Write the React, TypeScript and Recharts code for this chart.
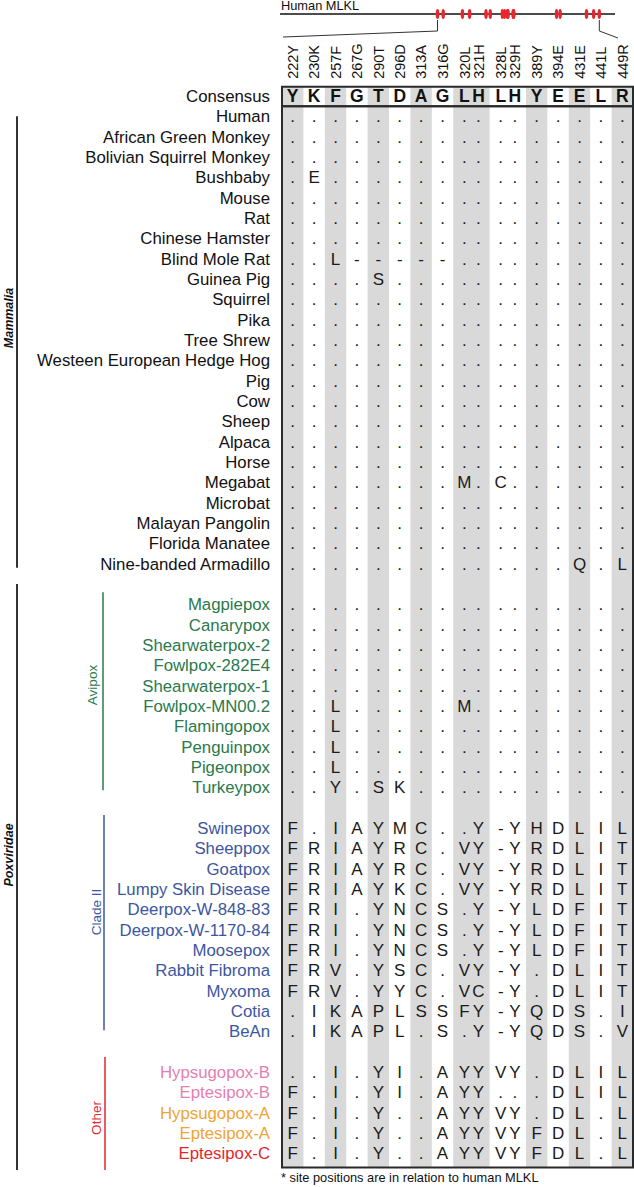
import React from 'react';
import { ComposedChart, XAxis, YAxis, Scatter, ReferenceArea, ReferenceLine } from 'recharts';

const FONT = '"Liberation Sans", Arial, Helvetica, sans-serif';

// ---------- data ----------
const sites = ['222Y', '230K', '257F', '267G', '290T', '296D', '313A', '316G', '320L', '321H', '328L', '329H', '389Y', '394E', '431E', '441L', '449R'];
const sitePositions = [222, 230, 257, 267, 290, 296, 313, 316, 320, 321, 328, 329, 389, 394, 431, 441, 449];
const siteGroup = [0, 1, 2, 3, 4, 5, 6, 7, 8, 8, 9, 9, 10, 11, 12, 13, 14];
const mlklLength = 471;
const consensus = 'YKFGTDAGLHLHYEELR';

const mammaliaNames = ['Human', 'African Green Monkey', 'Bolivian Squirrel Monkey', 'Bushbaby', 'Mouse', 'Rat', 'Chinese Hamster', 'Blind Mole Rat', 'Guinea Pig', 'Squirrel', 'Pika', 'Tree Shrew', 'Westeen European Hedge Hog', 'Pig', 'Cow', 'Sheep', 'Alpaca', 'Horse', 'Megabat', 'Microbat', 'Malayan Pangolin', 'Florida Manatee', 'Nine-banded Armadillo'];
const mammaliaSeqs = [
  '.................',
  '.................',
  '.................',
  '.E...............',
  '.................',
  '.................',
  '.................',
  '..L-----.........',
  '....S............',
  '.................',
  '.................',
  '.................',
  '.................',
  '.................',
  '.................',
  '.................',
  '.................',
  '.................',
  '........M.C......',
  '.................',
  '.................',
  '.................',
  '..............Q.L',
];

const avipoxNames = ['Magpiepox', 'Canarypox', 'Shearwaterpox-2', 'Fowlpox-282E4', 'Shearwaterpox-1', 'Fowlpox-MN00.2', 'Flamingopox', 'Penguinpox', 'Pigeonpox', 'Turkeypox'];
const avipoxSeqs = [
  '.................',
  '.................',
  '.................',
  '.................',
  '.................',
  '..L.....M........',
  '..L..............',
  '..L..............',
  '..L..............',
  '..Y.SK...........',
];

const cladeIINames = ['Swinepox', 'Sheeppox', 'Goatpox', 'Lumpy Skin Disease', 'Deerpox-W-848-83', 'Deerpox-W-1170-84', 'Moosepox', 'Rabbit Fibroma', 'Myxoma', 'Cotia', 'BeAn'];
const cladeIISeqs = [
  'F.IAYMC..Y-YHDLIL',
  'FRIAYRC.VY-YRDLIT',
  'FRIAYRC.VY-YRDLIT',
  'FRIAYKC.VY-YRDLIT',
  'FRI.YNCS.Y-YLDFIT',
  'FRI.YNCS.Y-YLDFIT',
  'FRI.YNCS.Y-YLDFIT',
  'FRV.YSC.VY-Y.DLIT',
  'FRV.YYC.VC-Y.DLIT',
  '.IKAPLSSFY-YQDS.I',
  '.IKAPL.S.Y-YQDS.V',
];

const otherNames = ['Hypsugopox-B', 'Eptesipox-B', 'Hypsugopox-A', 'Eptesipox-A', 'Eptesipox-C'];
const otherSeqs = [
  '..I.YI.AYYVY.DLIL',
  'F.I.YI.AYY...DLIL',
  'F.I.Y..AYYVY.DL.L',
  'F.I.Y..AYYVYFDL.L',
  'F.I.Y..AYYVYFDL.L',
];

// ---------- styles ----------
const MAMMAL_COLOR = '#111111';
const AVIPOX_COLOR = '#2a7a4b';
const CLADE2_COLOR = '#3d56a0';
const OTHER_COLOR = '#e3262d';
const otherColors = ['#e67fb0', '#e67fb0', '#f0a436', '#f0a436', '#e3262d'];
const BAND = '#d9d9d9';

// ---------- layout ----------
const W = 634;
const H = 1187;
const TABLE_LEFT = 282;
const HEADER_H = 86.85;
const Y_MIN = -0.45;
const Y_MAX = 52.7;
const BOTTOM = 19.5;
const PAIR_W = 1.7;
const PAIR_OFF = 0.33;

const groupCount = Math.max(...siteGroup) + 1;
const groupSize: number[] = Array(groupCount).fill(0);
siteGroup.forEach((g) => { groupSize[g] += 1; });
const groupWidth = groupSize.map((n) => (n > 1 ? PAIR_W : 1));
const groupStart: number[] = [];
let acc = 0;
groupWidth.forEach((w) => { groupStart.push(acc); acc += w; });
const TOTAL = acc;
const colX = sites.map((_, i) => {
  const g = siteGroup[i];
  const c = groupStart[g] + groupWidth[g] / 2;
  if (groupSize[g] === 1) return c;
  const k = siteGroup.slice(0, i).filter((v) => v === g).length;
  return c + (k === 0 ? -PAIR_OFF : PAIR_OFF);
});

type RowInfo = { name: string; color: string; seq: string; row: number };
const sections = [
  { names: mammaliaNames, seqs: mammaliaSeqs, colors: mammaliaNames.map(() => MAMMAL_COLOR) },
  { names: avipoxNames, seqs: avipoxSeqs, colors: avipoxNames.map(() => AVIPOX_COLOR) },
  { names: cladeIINames, seqs: cladeIISeqs, colors: cladeIINames.map(() => CLADE2_COLOR) },
  { names: otherNames, seqs: otherSeqs, colors: otherColors },
];
const rows: RowInfo[] = [];
const sectionRange: [number, number][] = [];
let r = 1;
sections.forEach((s, si) => {
  const start = r;
  s.names.forEach((n, i) => { rows.push({ name: n, color: s.colors[i], seq: s.seqs[i], row: r }); r += 1; });
  sectionRange.push([start, r - 1]);
  if (si < sections.length - 1) r += 1;
});

const labelByRow: Record<number, { name: string; color: string }> = { 0: { name: 'Consensus', color: '#111' } };
rows.forEach((row) => { labelByRow[row.row] = { name: row.name, color: row.color }; });
const labelRows = [0, ...rows.map((row) => row.row)];

const cells = rows.flatMap((row) => row.seq.split('').map((ch, c) => ({ x: colX[c], y: row.row, ch })));
const consensusCells = consensus.split('').map((ch, c) => ({ x: colX[c], y: 0, ch }));

const pitch = (H - BOTTOM - HEADER_H) / (Y_MAX - Y_MIN);
const rowY = (row: number) => HEADER_H + (row - Y_MIN) * pitch;

// ---------- renderers ----------
const RowTick = (props: any) => {
  const { x, y, payload } = props;
  const info = labelByRow[payload.value];
  if (!info) return null;
  return (
    <text x={x - 4} y={y} dy="0.36em" textAnchor="end" fontFamily={FONT} fontSize={16.8} fill={info.color}>
      {info.name}
    </text>
  );
};

const ColTick = (props: any) => {
  const { x, y, payload } = props;
  const idx = colX.findIndex((v) => Math.abs(v - payload.value) < 1e-6);
  if (idx < 0) return null;
  return (
    <text x={x} y={y} transform={`rotate(-90, ${x}, ${y})`} dy="0.36em" textAnchor="start" fontFamily={FONT} fontSize={14.5} fill="#111">
      {sites[idx]}
    </text>
  );
};

const CellShape = (props: any) => {
  const { cx, cy, payload } = props;
  return (
    <text x={cx} y={cy} dy="0.36em" textAnchor="middle" fontFamily={FONT} fontSize={17} fill="#1a1a1a">
      {payload.ch}
    </text>
  );
};

const ConsensusShape = (props: any) => {
  const { cx, cy, payload } = props;
  return (
    <text x={cx} y={cy} dy="0.36em" textAnchor="middle" fontFamily={FONT} fontSize={17.5} fontWeight="bold" fill="#111">
      {payload.ch}
    </text>
  );
};

const MarkShape = (props: any) => {
  const { cx, cy } = props;
  return <ellipse cx={cx} cy={cy} rx={1.8} ry={5} fill="#e8262d" />;
};

// schematic layout
const SCH_LEFT = 280;
const SCH_RIGHT = 615;
const SCH_H = 28;
const schX = (p: number) => SCH_LEFT + ((p - 1) / (mlklLength - 1)) * (SCH_RIGHT - SCH_LEFT);

export default function App() {
  const bands = groupStart.map((s, g) => ({ x1: s, x2: s + groupWidth[g], g })).filter((b) => b.g % 2 === 0);
  const firstSite = schX(sitePositions[0]);
  const lastSite = schX(sitePositions[sitePositions.length - 1]);
  const [mamS, mamE] = sectionRange[0];
  const [aviS, aviE] = sectionRange[1];
  const [cl2S, cl2E] = sectionRange[2];
  const [othS] = sectionRange[3];
  return (
    <div style={{ position: 'relative', width: W, height: H, overflow: 'hidden', background: '#fff' }}>
      <style>{'body{margin:0}'}</style>
      <div style={{ position: 'absolute', left: 0, top: 0 }}>
        <ComposedChart width={W} height={H} margin={{ top: 0, right: 1, bottom: BOTTOM, left: 0 }}>
          <XAxis xAxisId="c" type="number" dataKey="x" orientation="top" height={HEADER_H} domain={[0, TOTAL]} ticks={colX} interval={0} tick={(p: any) => <ColTick {...p} />} axisLine={false} tickLine={false} />
          <YAxis yAxisId="r" type="number" dataKey="y" domain={[Y_MIN, Y_MAX]} reversed width={TABLE_LEFT} ticks={labelRows} interval={0} tick={(p: any) => <RowTick {...p} />} axisLine={false} tickLine={false} />
          {bands.map((b) => (
            <ReferenceArea key={b.g} xAxisId="c" yAxisId="r" x1={b.x1} x2={b.x2} y1={Y_MIN} y2={Y_MAX} fill={BAND} fillOpacity={1} stroke="none" />
          ))}
          <ReferenceArea xAxisId="c" yAxisId="r" x1={0} x2={TOTAL} y1={Y_MIN} y2={0.5} fill="none" fillOpacity={0} stroke="#2a2a2a" strokeWidth={2} />
          <ReferenceArea xAxisId="c" yAxisId="r" x1={0} x2={TOTAL} y1={0.5} y2={Y_MAX} fill="none" fillOpacity={0} stroke="#2a2a2a" strokeWidth={2} />
          <Scatter xAxisId="c" yAxisId="r" data={cells} shape={(p: any) => <CellShape {...p} />} isAnimationActive={false} />
          <Scatter xAxisId="c" yAxisId="r" data={consensusCells} shape={(p: any) => <ConsensusShape {...p} />} isAnimationActive={false} />
        </ComposedChart>
      </div>
      <div style={{ position: 'absolute', left: 0, top: 0 }}>
        <ComposedChart width={W} height={SCH_H} margin={{ top: 0, right: W - SCH_RIGHT, bottom: 0, left: SCH_LEFT }}>
          <XAxis xAxisId="p" type="number" dataKey="pos" domain={[1, mlklLength]} hide />
          <YAxis yAxisId="p" type="number" dataKey="lane" domain={[0, 1]} hide />
          <ReferenceLine xAxisId="p" yAxisId="p" y={0.5} stroke="#111" strokeWidth={1.4} />
          <Scatter xAxisId="p" yAxisId="p" data={sitePositions.map((pos) => ({ pos, lane: 0.5 }))} shape={(p: any) => <MarkShape {...p} />} isAnimationActive={false} />
        </ComposedChart>
      </div>
      <svg width={W} height={H} style={{ position: 'absolute', left: 0, top: 0, pointerEvents: 'none' }}>
        <text x={281} y={9.5} fontFamily={FONT} fontSize={12.8} fill="#111">Human MLKL</text>
        <polyline points={`${firstSite},20 ${firstSite},31 ${TABLE_LEFT + 1},37`} fill="none" stroke="#333" strokeWidth={1} />
        <polyline points={`${lastSite},20 ${lastSite},31 618,38`} fill="none" stroke="#333" strokeWidth={1} />

        <line x1={17} x2={17} y1={rowY(mamS)} y2={rowY(mamE) + 4} stroke="#333" strokeWidth={2} />
        <text transform={`translate(8, 318) rotate(-90)`} textAnchor="middle" dy="0.36em" fontFamily={FONT} fontSize={12.5} fontWeight="bold" fontStyle="italic" fill="#111">Mammalia</text>
        <line x1={17} x2={17} y1={rowY(mamE + 1)} y2={1170} stroke="#333" strokeWidth={2} />
        <text transform={`translate(8, 855) rotate(-90)`} textAnchor="middle" dy="0.36em" fontFamily={FONT} fontSize={12.5} fontWeight="bold" fontStyle="italic" fill="#111">Poxviridae</text>

        <line x1={103} x2={103} y1={rowY(aviS) - 12} y2={rowY(aviE) + 3} stroke={AVIPOX_COLOR} strokeWidth={1.5} />
        <text transform={`translate(92, 685) rotate(-90)`} textAnchor="middle" dy="0.36em" fontFamily={FONT} fontSize={13.5} fill={AVIPOX_COLOR}>Avipox</text>
        <line x1={104} x2={104} y1={rowY(cl2S) - 13} y2={rowY(cl2E) - 1} stroke={CLADE2_COLOR} strokeWidth={1.5} />
        <text transform={`translate(96, 912) rotate(-90)`} textAnchor="middle" dy="0.36em" fontFamily={FONT} fontSize={13.5} fill={CLADE2_COLOR}>Clade II</text>
        <line x1={105} x2={105} y1={rowY(othS) - 15} y2={1170} stroke={OTHER_COLOR} strokeWidth={1.5} />
        <text transform={`translate(96, 1118) rotate(-90)`} textAnchor="middle" dy="0.36em" fontFamily={FONT} fontSize={13.5} fill={OTHER_COLOR}>Other</text>

        <text x={281} y={1182} fontFamily={FONT} fontSize={12.8} fill="#111">* site positions are in relation to human MLKL</text>
      </svg>
    </div>
  );
}
